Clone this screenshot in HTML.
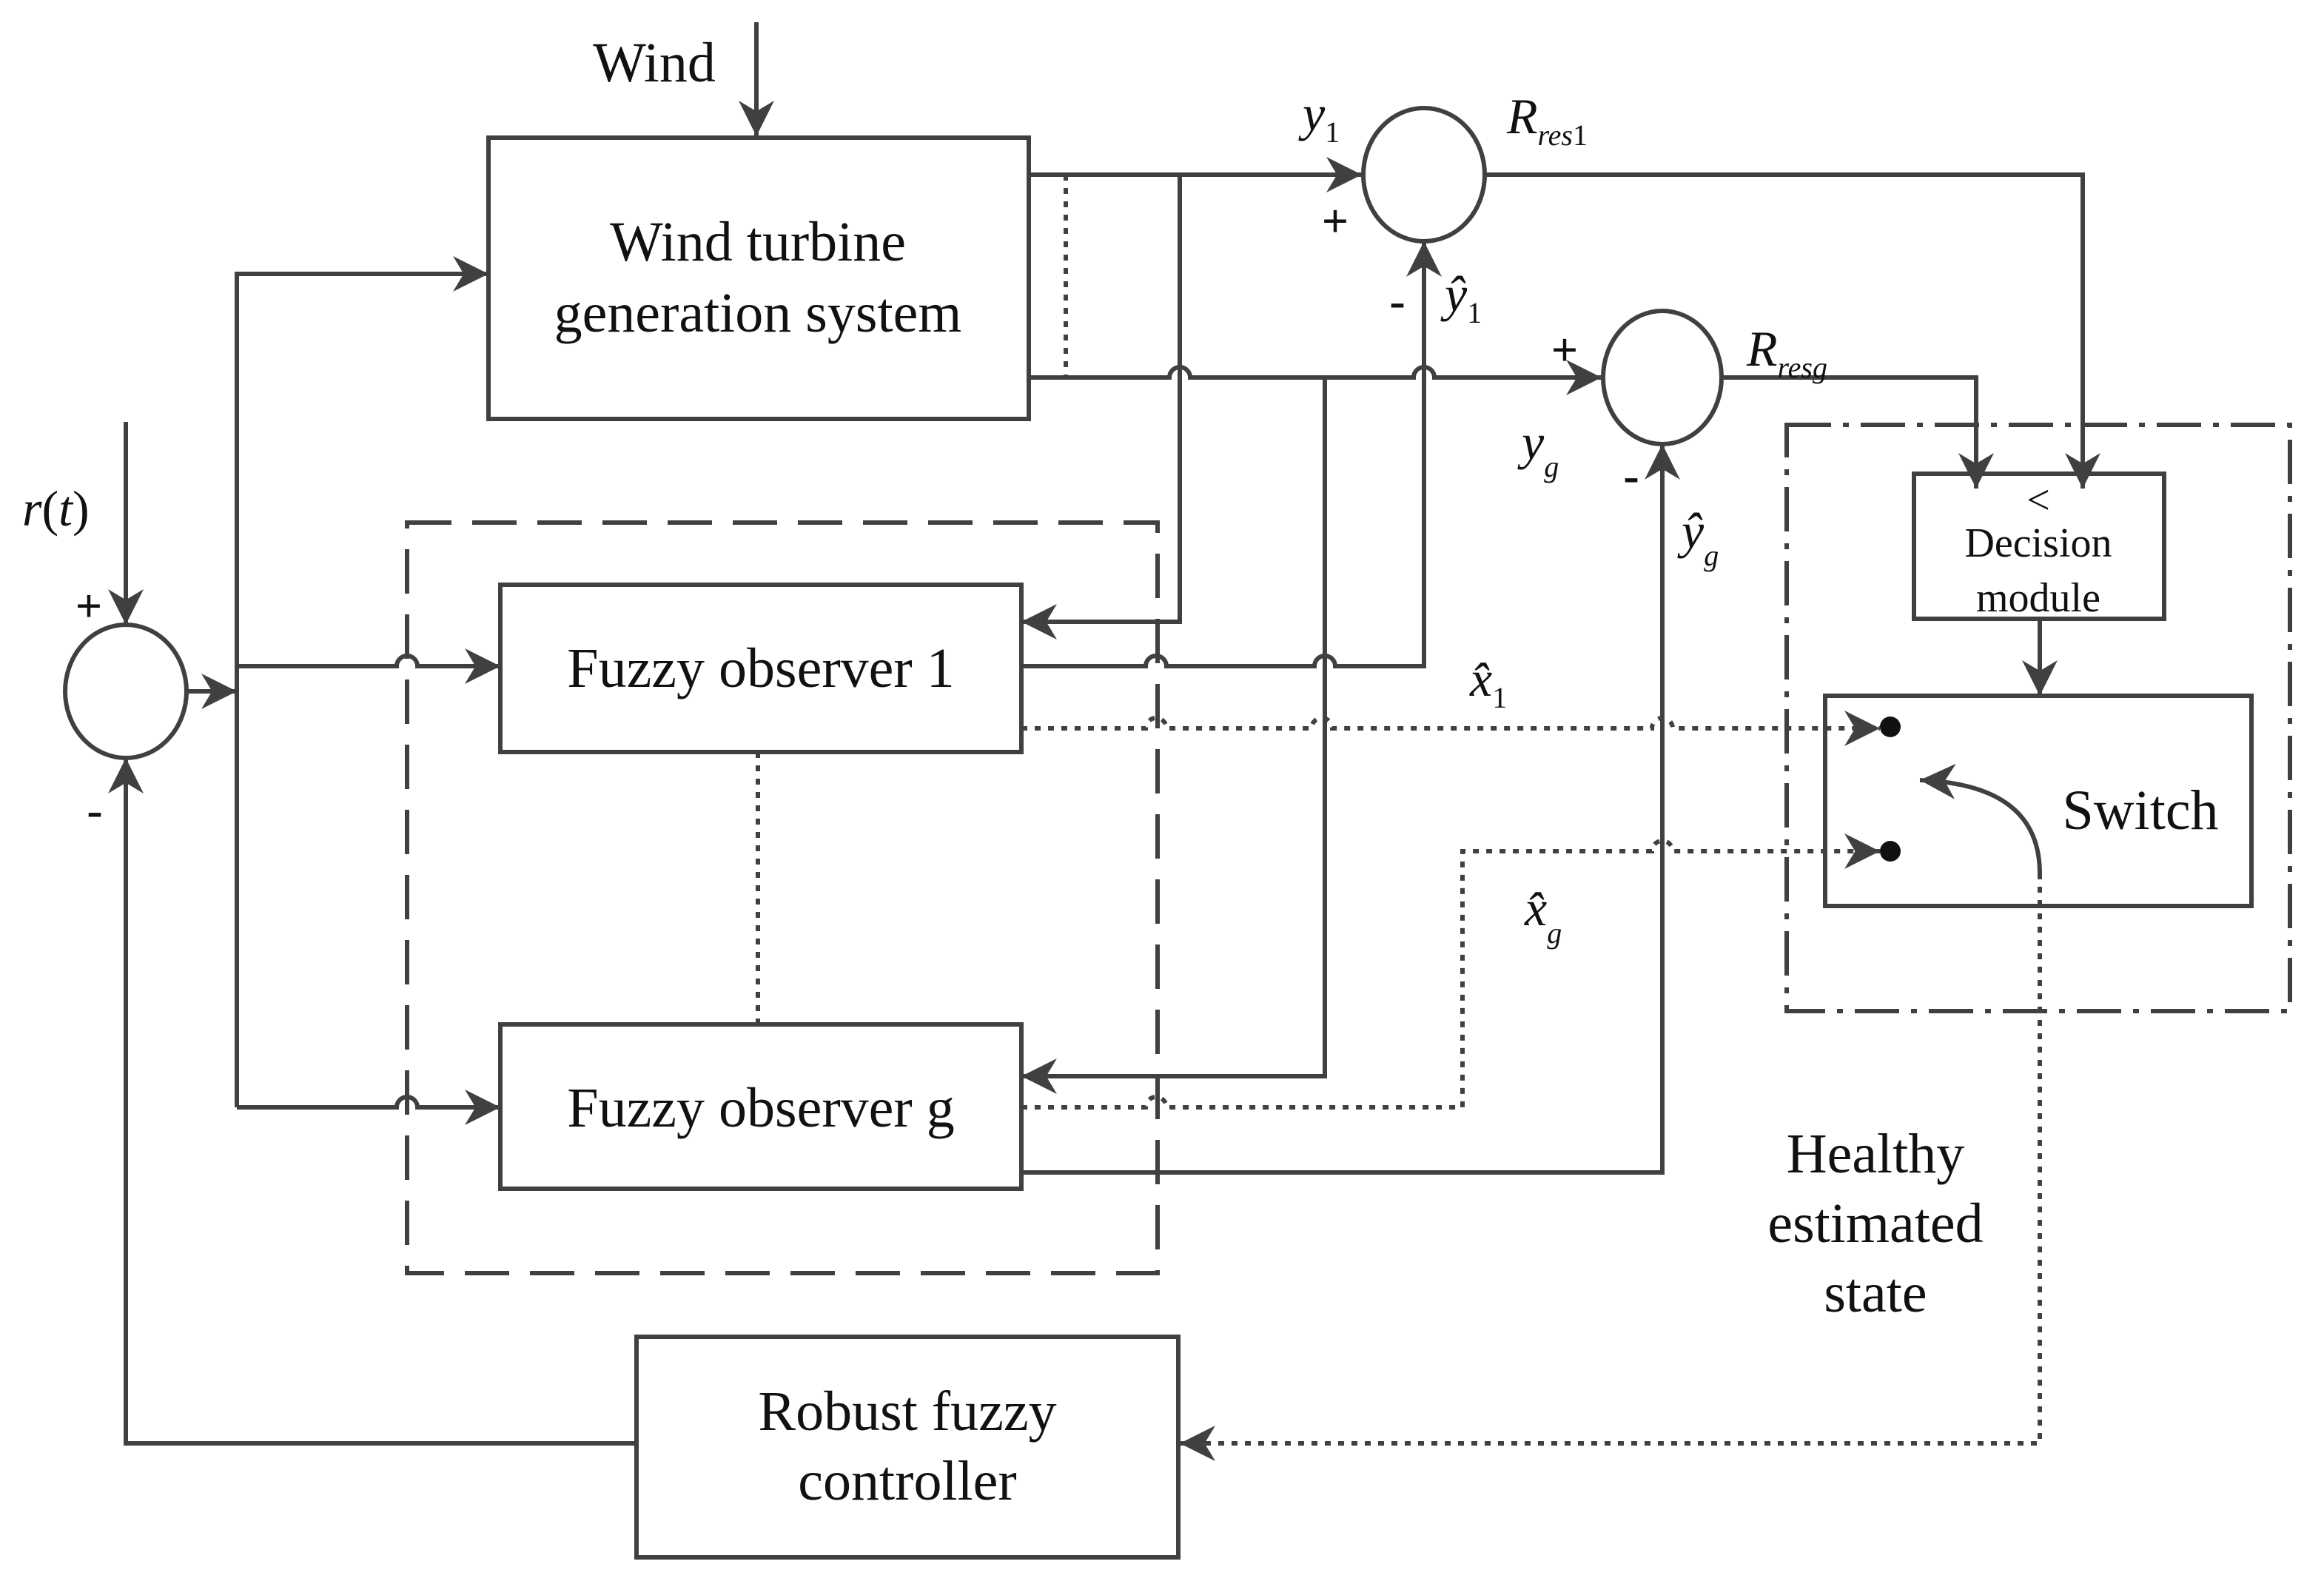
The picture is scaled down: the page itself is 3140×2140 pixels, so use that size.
<!DOCTYPE html>
<html><head><meta charset="utf-8"><style>
html,body{margin:0;padding:0;background:#fff;}
svg{display:block;}
text{font-family:"Liberation Serif",serif;fill:#111;}
.s{font-family:"Liberation Sans",sans-serif;}
</style></head><body>
<svg width="3140" height="2140" viewBox="0 0 1570 1070" xmlns="http://www.w3.org/2000/svg">
<defs>
<marker id="A" viewBox="0 0 10 10" refX="10" refY="5" markerWidth="24" markerHeight="24" markerUnits="userSpaceOnUse" orient="auto"><path d="M0,0 L10,5 L0,10 L3,5 z" fill="#404040"/></marker>
</defs>
<g fill="none" stroke="#404040" stroke-width="3">
<rect x="330" y="93" width="365" height="190"/>
<rect x="338" y="395" width="352" height="113"/>
<rect x="338" y="692" width="352" height="111"/>
<rect x="430" y="903" width="366" height="149"/>
<rect x="1293" y="320" width="169" height="98"/>
<rect x="1233" y="470" width="288" height="142"/>
<ellipse cx="962" cy="118" rx="41" ry="45"/>
<ellipse cx="1123" cy="255" rx="40" ry="45"/>
<ellipse cx="85" cy="467" rx="41" ry="45"/>
<rect x="275" y="353" width="507" height="507" stroke-dasharray="30,14"/>
<rect x="1207" y="287" width="340" height="396" stroke-dasharray="30,8,4,8"/>
<path d="M511,15 V92" marker-end="url(#A)"/>
<path d="M695,118 H920" marker-end="url(#A)"/>
<path d="M1003,118 H1407 V330" marker-end="url(#A)"/>
<path d="M695,255 H790 a7,7 0 0 1 14,0 H955 a7,7 0 0 1 14,0 H1082" marker-end="url(#A)"/>
<path d="M1163,255 H1335 V330" marker-end="url(#A)"/>
<path d="M797,118 V420 H690" marker-end="url(#A)"/>
<path d="M690,450 H774 a7,7 0 0 1 14,0 H888 a7,7 0 0 1 14,0 H962 V163" marker-end="url(#A)"/>
<path d="M895,255 V727 H690" marker-end="url(#A)"/>
<path d="M690,792 H1123 V300" marker-end="url(#A)"/>
<path d="M85,285 V422" marker-end="url(#A)"/>
<path d="M126,467 H160" marker-end="url(#A)"/>
<path d="M160,748 V185 H330" marker-end="url(#A)"/>
<path d="M160,450 H268 a7,7 0 0 1 14,0 H338" marker-end="url(#A)"/>
<path d="M160,748 H268 a7,7 0 0 1 14,0 H338" marker-end="url(#A)"/>
<path d="M430,975 H85 V512" marker-end="url(#A)"/>
<path d="M1378,418 V470" marker-end="url(#A)"/>
<path d="M1378,590 Q1378,530 1297,527" marker-end="url(#A)"/>
<g stroke-dasharray="4,5">
<path d="M720,118 V255"/>
<path d="M512,508 V692"/>
<path d="M690,492 H774 a7,7 0 0 1 14,0 H886 a7,7 0 0 1 14,0 H1116 a7,7 0 0 1 14,0 H1270" marker-end="url(#A)"/>
<path d="M690,748 H774 a7,7 0 0 1 14,0 H988 V575 H1116 a7,7 0 0 1 14,0 H1270" marker-end="url(#A)"/>
<path d="M1378,590 V975 H797" marker-end="url(#A)"/>
</g>
</g>
<circle cx="1277" cy="491" r="7" fill="#111"/>
<circle cx="1277" cy="575" r="7" fill="#111"/>
<g font-size="38" text-anchor="middle">
<text x="442" y="55">Wind</text>
<text x="512" y="176">Wind turbine</text>
<text x="512" y="224">generation system</text>
<text x="514" y="464">Fuzzy observer 1</text>
<text x="514" y="761">Fuzzy observer g</text>
<text x="613" y="966">Robust fuzzy</text>
<text x="613" y="1013">controller</text>
<text x="1446" y="560">Switch</text>
<text x="1267" y="792">Healthy</text>
<text x="1267" y="839">estimated</text>
<text x="1267" y="886">state</text>
</g>
<g class="s" font-size="28" text-anchor="middle">
<text x="1377" y="347">&lt;</text>
<text x="1377" y="376">Decision</text>
<text x="1377" y="413">module</text>
</g>
<g class="s" font-size="32" font-weight="bold" text-anchor="middle">
<text x="902" y="160">+</text>
<text x="944" y="214">-</text>
<text x="1057" y="247">+</text>
<text x="1102" y="332">-</text>
<text x="60" y="420">+</text>
<text x="64" y="558">-</text>
</g>
<g font-size="34" font-style="italic">
<text x="880" y="88">y<tspan font-size="20" font-style="normal" dy="8">1</tspan></text>
<text x="1018" y="90">R<tspan font-size="20" dy="8">res</tspan><tspan font-size="20" font-style="normal">1</tspan></text>
<text x="1180" y="247">R<tspan font-size="20" dy="8">resg</tspan></text>
<text x="976" y="210">ŷ<tspan font-size="20" font-style="normal" dy="8">1</tspan></text>
<text x="1028" y="310">y<tspan font-size="20" dy="12">g</tspan></text>
<text x="1136" y="370">ŷ<tspan font-size="20" dy="12">g</tspan></text>
<text x="993" y="470">x̂<tspan font-size="20" font-style="normal" dy="8">1</tspan></text>
<text x="1030" y="625">x̂<tspan font-size="20" dy="12">g</tspan></text>
<text x="15" y="355">r<tspan font-style="normal">(</tspan>t<tspan font-style="normal">)</tspan></text>
</g>
</svg>
</body></html>
